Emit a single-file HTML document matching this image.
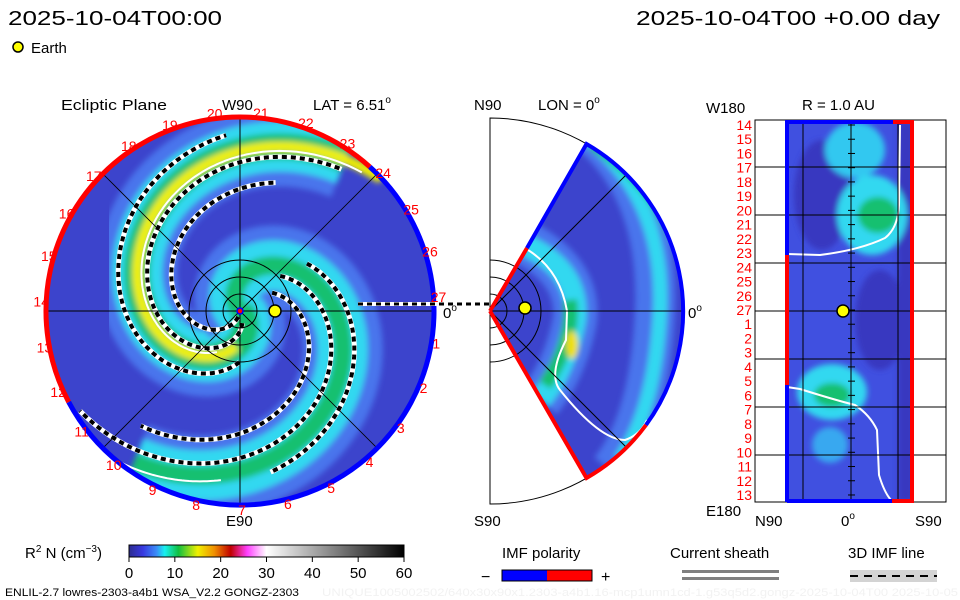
<!DOCTYPE html>
<html><head><meta charset="utf-8"><style>
html,body{margin:0;padding:0;background:#fff;}
svg{display:block;font-family:"Liberation Sans",sans-serif;}
</style></head><body>
<svg id="s" width="960" height="600" viewBox="0 0 960 600" xmlns="http://www.w3.org/2000/svg">
<defs>
<clipPath id="cm"><circle cx="240" cy="311" r="194"/></clipPath>
<clipPath id="cw"><path d="M490,311 L586.5,144 A193,193 0 0 1 586.5,478 Z"/></clipPath>
<clipPath id="cr"><rect x="785" y="121" width="129" height="381"/></clipPath>
<filter id="bl"><feGaussianBlur stdDeviation="3"/></filter>
<linearGradient id="cb" x1="0" x2="1" y1="0" y2="0">
<stop offset="0" stop-color="#2c2c90"/><stop offset="0.05" stop-color="#3838e0"/><stop offset="0.1" stop-color="#3a8cf8"/>
<stop offset="0.13" stop-color="#18f0f0"/><stop offset="0.18" stop-color="#10c040"/><stop offset="0.25" stop-color="#f0f000"/>
<stop offset="0.31" stop-color="#f09000"/><stop offset="0.37" stop-color="#c00000"/><stop offset="0.43" stop-color="#ff40ff"/>
<stop offset="0.5" stop-color="#ffffff"/><stop offset="1" stop-color="#000000"/>
</linearGradient>
</defs>

<text x="8" y="25" font-size="20" textLength="214" lengthAdjust="spacingAndGlyphs">2025-10-04T00:00</text>
<text x="636" y="25" font-size="20" textLength="304" lengthAdjust="spacingAndGlyphs">2025-10-04T00 +0.00 day</text>
<circle cx="18" cy="47" r="5" fill="#ffff00" stroke="#000" stroke-width="1.5"/>
<text x="31" y="53" font-size="15">Earth</text>

<text x="61" y="110" font-size="15" textLength="106" lengthAdjust="spacingAndGlyphs">Ecliptic Plane</text>
<text x="222" y="110" font-size="15">W90</text>
<text x="313" y="110" font-size="15">LAT = 6.51<tspan font-size="10" dy="-7">o</tspan></text>
<text x="474" y="110" font-size="15">N90</text>
<text x="538" y="110" font-size="15">LON = 0<tspan font-size="10" dy="-7">o</tspan></text>
<text x="706" y="113" font-size="15">W180</text>
<text x="802" y="110" font-size="15">R = 1.0 AU</text>
<text x="226" y="526" font-size="15">E90</text>
<text x="474" y="526" font-size="15">S90</text>
<text x="706" y="516" font-size="15">E180</text>
<text x="755" y="526" font-size="15">N90</text>
<text x="841" y="526" font-size="15">0<tspan font-size="10" dy="-7">o</tspan></text>
<text x="915" y="526" font-size="15">S90</text>

<g id="main"></g>
<g id="mid"></g>
<g id="right"></g>

<text x="25" y="558" font-size="15">R<tspan font-size="10" dy="-6">2</tspan><tspan dy="6"> N (cm</tspan><tspan font-size="10" dy="-6">−3</tspan><tspan dy="6">)</tspan></text>
<rect x="129" y="545" width="275" height="12" fill="url(#cb)" stroke="#000" stroke-width="1"/>
<g id="cbt"></g>
<text x="5" y="596" font-size="11" textLength="294" lengthAdjust="spacingAndGlyphs">ENLIL-2.7 lowres-2303-a4b1 WSA_V2.2 GONGZ-2303</text>
<text x="322" y="596" font-size="11" fill="#f2f2f2" textLength="636" lengthAdjust="spacingAndGlyphs">UNIQUE1005002502/640x30x90x1.2303-a4b1.16-mcp1umn1cd-1.g53q5d2.gongz-2025-10-04T00  2025-10-05</text>

<text x="502" y="558" font-size="15">IMF polarity</text>
<rect x="502" y="570" width="45" height="11" fill="#0000ff"/>
<rect x="547" y="570" width="45" height="11" fill="#ff0000"/>
<rect x="502" y="570" width="90" height="11" fill="none" stroke="#000" stroke-width="1"/>
<text x="481" y="582" font-size="16">−</text>
<text x="601" y="582" font-size="16">+</text>
<text x="670" y="558" font-size="15">Current sheath</text>
<rect x="682" y="570" width="97" height="3" fill="#808080"/>
<rect x="682" y="577" width="97" height="3" fill="#808080"/>
<text x="848" y="558" font-size="15">3D IMF line</text>
<rect x="850" y="570" width="87" height="12" fill="#d3d3d3"/>
<line x1="850" y1="576" x2="937" y2="576" stroke="#000" stroke-width="2" stroke-dasharray="8,6"/>
</svg>
<script>
const NS="http://www.w3.org/2000/svg";
// ---- data ----
const cbTicks=[0,10,20,30,40,50,60];
const lonLabels=[27,26,25,24,23,22,21,20,19,18,17,16,15,14,13,12,11,10,9,8,7,6,5,4,3,2,1];
const rightLabels=[14,15,16,17,18,19,20,21,22,23,24,25,26,27,1,2,3,4,5,6,7,8,9,10,11,12,13];
const armTheta0=[5.46,8.60];
const armYellowRange=[4.6,0.75];
const dashTheta0=[5.95,5.20,4.55,8.30,8.90,7.70];
const dashStart=[4.7,4.9,4.4,7.0,6.9,6.8];
const dashEnd=[1.65,0.95,1.3,3.7,4.9,4.0];
const sheathTheta0=[5.35,8.75];
const sheathStart=[4.2,4.6];
const sheathEnd=[0.85,3.55];
const K=41, CX=240, CY=311, R=194;

function el(tag,attrs,parent){const e=document.createElementNS(NS,tag);for(const k in attrs)e.setAttribute(k,attrs[k]);parent.appendChild(e);return e;}
function spiral(t0,a,b){let d="";const n=Math.ceil(Math.abs(a-b)/0.02);for(let i=0;i<=n;i++){const t=a+(b-a)*i/n;const r=K*(t0-t);if(r<0)continue;const x=CX+r*Math.cos(t),y=CY-r*Math.sin(t);d+=(d?"L":"M")+x.toFixed(1)+","+y.toFixed(1);}return d;}

// ---- main panel ----
const main=document.getElementById('main');
const g=el('g',{'clip-path':'url(#cm)'},main);
el('circle',{cx:CX,cy:CY,r:R,fill:'#3c44cc'},g);
const gb=el('g',{filter:'url(#bl)'},g);
armTheta0.forEach((t0,i)=>{
  const d=spiral(t0,t0,t0-4.5);
  const a1=el('path',{d:d,fill:'none',stroke:'#4a74ec','stroke-width':80},gb);
  
  
  el('path',{d:d,fill:'none',stroke:'#30d8f0','stroke-width':50},gb);
  el('path',{d:d,fill:'none',stroke:'#18c070','stroke-width':i===0?26:18},gb);
});
const yc=el('path',{d:spiral(armTheta0[0],armYellowRange[0],armYellowRange[1]),fill:'none',stroke:'#f0f000','stroke-width':10},gb);


sheathTheta0.forEach((t0,i)=>{
  const p=el('path',{d:spiral(t0,sheathStart[i],sheathEnd[i]),fill:'none',stroke:'#fff','stroke-width':2},g);
  
  
});
dashTheta0.forEach((t0,i)=>{
  const d=spiral(t0,dashStart[i],dashEnd[i]);
  el('path',{d:d,fill:'none',stroke:'#fff','stroke-width':5},g);
  const p=el('path',{d:d,fill:'none',stroke:'#000','stroke-width':4,'stroke-dasharray':'5,4'},g);
  
  
});
[[CX-R,CY,CX+R,CY],[CX,CY-R,CX,CY+R]].forEach(l=>el('line',{x1:l[0],y1:l[1],x2:l[2],y2:l[3],stroke:'#000','stroke-width':1},main));
[45,135].forEach(a=>{const c=Math.cos(a*Math.PI/180)*R,s=Math.sin(a*Math.PI/180)*R;el('line',{x1:CX-c,y1:CY+s,x2:CX+c,y2:CY-s,stroke:'#000','stroke-width':0.8},main);});
[17,34,51].forEach(r=>el('circle',{cx:CX,cy:CY,r:r,fill:'none',stroke:'#000','stroke-width':1},main));
function arc(r,a1,a2){const p1=[CX+r*Math.cos(a1*Math.PI/180),CY-r*Math.sin(a1*Math.PI/180)],p2=[CX+r*Math.cos(a2*Math.PI/180),CY-r*Math.sin(a2*Math.PI/180)];const large=(a2-a1)>180?1:0;return `M${p1[0]},${p1[1]} A${r},${r} 0 ${large} 0 ${p2[0]},${p2[1]}`;}
const rr=el('path',{d:arc(R,48,208),fill:'none',stroke:'#ff0000','stroke-width':5},main);


const rb=el('path',{d:arc(R,208,408),fill:'none',stroke:'#0000ff','stroke-width':5},main);


lonLabels.forEach((v,i)=>{
  const a=(4+i*13.33)*Math.PI/180;
  const t=el('text',{x:CX+199*Math.cos(a),y:CY-199*Math.sin(a)+5,'font-size':14,fill:'#ff0000','text-anchor':'middle'},main);
  t.textContent=v;
  
  
});
el('circle',{cx:CX,cy:CY,r:3,fill:'#ff0000',stroke:'#0000ff','stroke-width':1.5},main);
const e1=el('circle',{cx:275,cy:311,r:6,fill:'#ffff00',stroke:'#000','stroke-width':1.5},main);


el('line',{x1:358,y1:304,x2:490,y2:304,stroke:'#fff','stroke-width':4},main);
el('line',{x1:358,y1:304,x2:490,y2:304,stroke:'#000','stroke-width':3,'stroke-dasharray':'5,4'},main);
const z1=el('text',{x:443,y:318,'font-size':15},main);z1.innerHTML='0<tspan font-size="10" dy="-7">o</tspan>';

// ---- middle panel ----
const mid=document.getElementById('mid');
const MX=490,MY=311,MR=193;
el('path',{d:`M${MX},${MY-MR} A${MR},${MR} 0 0 1 ${MX},${MY+MR} Z`,fill:'none',stroke:'#000','stroke-width':1},mid);
const gm=el('g',{'clip-path':'url(#cw)'},mid);
el('rect',{x:490,y:118,width:200,height:390,fill:'#3c44cc'},gm);
const gmb=el('g',{filter:'url(#bl)'},gm);
el('path',{d:'M586,130 Q660,190 655,311 Q650,420 610,470',fill:'none',stroke:'#4a74ec','stroke-width':40},gmb);
el('path',{d:'M590,140 Q665,200 660,311 Q655,410 620,460',fill:'none',stroke:'#30d8f0','stroke-width':14},gmb);
el('path',{d:'M592,145 Q650,180 675,240',fill:'none',stroke:'#18c070','stroke-width':10},gmb);
el('path',{d:'M520,240 Q580,270 575,320 Q565,370 540,400',fill:'none',stroke:'#4a74ec','stroke-width':44},gmb);
el('path',{d:'M525,245 Q580,270 575,320 Q565,370 540,400',fill:'none',stroke:'#30d8f0','stroke-width':22},gmb);
el('path',{d:'M570,300 Q575,340 545,385',fill:'none',stroke:'#18c070','stroke-width':14},gmb);
el('ellipse',{cx:572,cy:345,rx:6,ry:14,fill:'#f0e000'},gmb);
el('path',{d:'M528,250 Q560,270 567,311 L566,340 Q548,375 560,390 Q600,440 625,440 Q640,435 647,420',fill:'none',stroke:'#fff','stroke-width':2},gm);
[17,34,51].forEach(r=>el('path',{d:`M${MX},${MY-r} A${r},${r} 0 0 1 ${MX},${MY+r}`,fill:'none',stroke:'#000','stroke-width':1},mid));
el('line',{x1:MX,y1:MY,x2:MX+MR,y2:MY,stroke:'#000','stroke-width':1},mid);
el('line',{x1:MX,y1:MY,x2:MX+136,y2:MY-136,stroke:'#000','stroke-width':1},mid);
el('line',{x1:MX,y1:MY,x2:MX+136,y2:MY+136,stroke:'#000','stroke-width':1},mid);
el('path',{d:`M${MX},${MY} L527,248`,stroke:'#ff0000','stroke-width':4,fill:'none'},mid);
el('path',{d:`M527,248 L586.5,144 A193,193 0 0 1 646,425`,stroke:'#0000ff','stroke-width':4,fill:'none'},mid);
el('path',{d:`M646,425 A193,193 0 0 1 586.5,478 L${MX},${MY}`,stroke:'#ff0000','stroke-width':4,fill:'none'},mid);
const e2=el('circle',{cx:525,cy:308,r:6,fill:'#ffff00',stroke:'#000','stroke-width':1.5},mid);


const z2=el('text',{x:688,y:318,'font-size':15},mid);z2.innerHTML='0<tspan font-size="10" dy="-7">o</tspan>';

// ---- right panel ----
const right=document.getElementById('right');
const gr=el('g',{'clip-path':'url(#cr)'},right);
el('rect',{x:785,y:121,width:129,height:381,fill:'#4050e0'},gr);
const grb=el('g',{filter:'url(#bl)'},gr);
el('ellipse',{cx:822,cy:195,rx:28,ry:55,fill:'#3838c0'},grb);
el('ellipse',{cx:880,cy:320,rx:25,ry:50,fill:'#3838c0'},grb);
el('rect',{x:898,y:121,width:16,height:381,fill:'#3838c0'},grb);
el('ellipse',{cx:855,cy:150,rx:30,ry:28,fill:'#30c8f0'},grb);
el('ellipse',{cx:872,cy:215,rx:35,ry:40,fill:'#30d8f0'},grb);
el('ellipse',{cx:878,cy:215,rx:20,ry:18,fill:'#18c070'},grb);
el('ellipse',{cx:832,cy:392,rx:35,ry:28,fill:'#30d8f0'},grb);
el('ellipse',{cx:832,cy:395,rx:18,ry:12,fill:'#18c070'},grb);
el('ellipse',{cx:830,cy:445,rx:18,ry:18,fill:'#38a8f0'},grb);
el('path',{d:'M787,254 L820,255 Q860,250 885,238 Q898,228 899,205 L900,125',fill:'none',stroke:'#fff','stroke-width':2},gr);
el('path',{d:'M787,387 L800,389 Q835,400 855,405 Q870,415 877,430 L879,475 Q885,495 893,502',fill:'none',stroke:'#fff','stroke-width':2},gr);
el('rect',{x:755,y:120,width:191,height:382,fill:'none',stroke:'#000','stroke-width':1},right);
[803,851,898].forEach(x=>el('line',{x1:x,y1:120,x2:x,y2:502,stroke:'#000','stroke-width':1},right));
[167,215,263,311,359,407,455].forEach(y=>el('line',{x1:755,y1:y,x2:946,y2:y,stroke:'#000','stroke-width':1},right));
rightLabels.forEach((v,j)=>{
  const y=125+j*14.23;
  el('line',{x1:848,y1:y,x2:855,y2:y,stroke:'#000','stroke-width':1},right);
  const t=el('text',{x:752,y:y+5,'font-size':14,fill:'#ff0000','text-anchor':'end'},right);
  t.textContent=v;
  
  
});
el('path',{d:'M787,502 L787,385',stroke:'#0000ff','stroke-width':4,fill:'none'},right);
el('path',{d:'M787,385 L787,255',stroke:'#ff0000','stroke-width':4,fill:'none'},right);
el('path',{d:'M787,255 L787,122 L893,122',stroke:'#0000ff','stroke-width':4,fill:'none'},right);
el('path',{d:'M893,122 L912,122 L912,501 L892,501',stroke:'#ff0000','stroke-width':4,fill:'none'},right);
el('path',{d:'M892,501 L787,501',stroke:'#0000ff','stroke-width':4,fill:'none'},right);
const e3=el('circle',{cx:843,cy:311,r:6,fill:'#ffff00',stroke:'#000','stroke-width':1.5},right);



// ---- colorbar ticks ----
const cbt=document.getElementById('cbt');
cbTicks.forEach(v=>{
  const x=129+v/60*275;
  el('line',{x1:x,y1:557,x2:x,y2:562,stroke:'#000','stroke-width':1},cbt);
  const t=el('text',{x:x,y:578,'font-size':15,'text-anchor':'middle'},cbt);
  t.textContent=v;
  
  
});
</script>
</body></html>
